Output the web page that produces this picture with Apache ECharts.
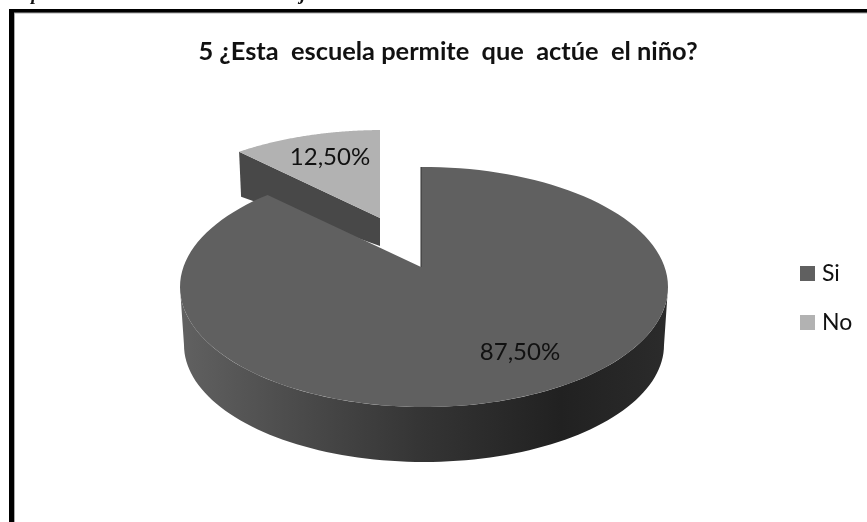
<!DOCTYPE html>
<html><head><meta charset="utf-8">
<style>html,body{margin:0;padding:0;background:#fff}#c{width:867px;height:522px}</style>
<script src="https://cdn.jsdelivr.net/npm/echarts@6/dist/echarts.min.js"></script>
</head><body><div id="c"></div>
<script>
const titleText = '5 ¿Esta  escuela permite  que  actúe  el niño?';
const categories = ['Si', 'No'];
const values = [87.5, 12.5];
const colors = ['#606060', '#b2b2b2'];
const labelTexts = ['87,50%', '12,50%'];

const FONT = 'Lato, "Open Sans", sans-serif';
const total = values.reduce((a, b) => a + b, 0);
const K = 0.47;
const layouts = [
  {apex: [421, 267], c: [424, 287], a: 244, b: 120, label: [520, 352], wall: '#484848'},
  {apex: [380, 218], c: [383, 239], a: 240, b: 109, label: [330, 157], wall: '#484848'}
];

function edge(l, deg) {
  const t = deg * Math.PI / 180;
  const dx = Math.sin(t), dy = -Math.cos(t) * K;
  const px = l.apex[0] - l.c[0], py = l.apex[1] - l.c[1];
  const A = dx * dx / (l.a * l.a) + dy * dy / (l.b * l.b);
  const B = 2 * (px * dx / (l.a * l.a) + py * dy / (l.b * l.b));
  const C = px * px / (l.a * l.a) + py * py / (l.b * l.b) - 1;
  const s = (-B + Math.sqrt(B * B - 4 * A * C)) / (2 * A);
  return [l.apex[0] + s * dx, l.apex[1] + s * dy];
}
function slice(index) {
  let start = 0;
  for (let i = 0; i < index; i++) start += values[i] / total * 360;
  const sweep = values[index] / total * 360;
  const l = layouts[index], pts = [l.apex];
  for (let i = 0; i <= 120; i++) pts.push(edge(l, start + sweep * i / 120));
  return {l, pts, first: pts[1], last: pts[pts.length - 1]};
}
function renderer(index) {
  return function () {
    const s = slice(index), l = s.l, children = [];
    if (index === 0) {
      const wall = [];
      for (let i = 0; i <= 90; i++) {
        const t = Math.PI * i / 90;
        wall.push([l.c[0] + l.a * Math.cos(t), l.c[1] + l.b * Math.sin(t)]);
      }
      for (let i = 90; i >= 0; i--) {
        const t = Math.PI * i / 90;
        wall.push([l.c[0] + (l.a - 4) * Math.cos(t), l.c[1] + 58 + (l.b - 3) * Math.sin(t)]);
      }
      children.push({type: 'polygon', shape: {points: wall}, style: {
        fill: new echarts.graphic.LinearGradient(0, 0, 1, 0, [
          {offset: 0, color: '#616161'}, {offset: 0.25, color: '#4a4a4a'},
          {offset: 0.5, color: '#343434'}, {offset: 0.78, color: '#212121'},
          {offset: 1, color: '#2b2b2b'}])
      }});
    } else {
      const tip = s.first;
      children.push({type: 'polygon', shape: {points: [
        tip, [tip[0] + 2, tip[1] + 45], [l.apex[0], l.apex[1] + 28], l.apex
      ]}, style: {fill: l.wall}});
    }
    children.push({type: 'polygon', shape: {points: s.pts}, style: {fill: colors[index]}});
    if (index === 0) {
      children.push({type: 'polyline', shape: {points: [s.first, l.apex]},
        style: {stroke: '#333', lineWidth: 1, fill: 'none'}});
    }
    children.push({type: 'text', style: {
      text: labelTexts[index], x: l.label[0], y: l.label[1], fill: '#111',
      font: '24px ' + FONT, align: 'center', verticalAlign: 'middle'
    }});
    return {type: 'group', children};
  };
}

const chart = echarts.init(document.getElementById('c'), null, {renderer: 'canvas'});
chart.setOption({
  animation: false,
  backgroundColor: '#fff',
  color: colors,
  title: {
    text: titleText, left: 443, top: 34, textAlign: 'center',
    textStyle: {fontFamily: FONT, fontWeight: 'bold', fontSize: 25.4, color: '#111'}
  },
  legend: {
    orient: 'vertical', left: 800, top: 262, padding: 0, icon: 'rect', itemWidth: 15, itemHeight: 15,
    itemGap: 26, data: categories,
    textStyle: {fontFamily: FONT, fontSize: 23, color: '#111', padding: [0, 0, 0, 2]}
  },
  graphic: [
    {type: 'rect', shape: {x: 9, y: 9, width: 858, height: 4}, style: {fill: '#000'}},
    {type: 'rect', shape: {x: 14, y: 12.5, width: 853, height: 1}, style: {fill: '#aaa'}},
    {type: 'rect', shape: {x: 9, y: 9, width: 5, height: 513}, style: {fill: '#000'}},
    {type: 'rect', shape: {x: 14, y: 13, width: 1, height: 509}, style: {fill: '#aaa'}},
    {type: 'text', style: {text: 'p', x: 36, y: -14, fill: '#111', align: 'center', verticalAlign: 'top',
      font: 'italic bold 19px "Liberation Serif"'}},
    {type: 'text', style: {text: 'j', x: 303, y: -14, fill: '#111', align: 'center', verticalAlign: 'top',
      font: 'italic bold 19px "Liberation Serif"'}}
  ],
  series: categories.map((name, i) => ({
    type: 'custom', name, coordinateSystem: 'none', z: i === 0 ? 3 : 2,
    itemStyle: {color: colors[i]},
    renderItem: renderer(i), data: [[values[i]]], silent: true
  }))
});
</script></body></html>
